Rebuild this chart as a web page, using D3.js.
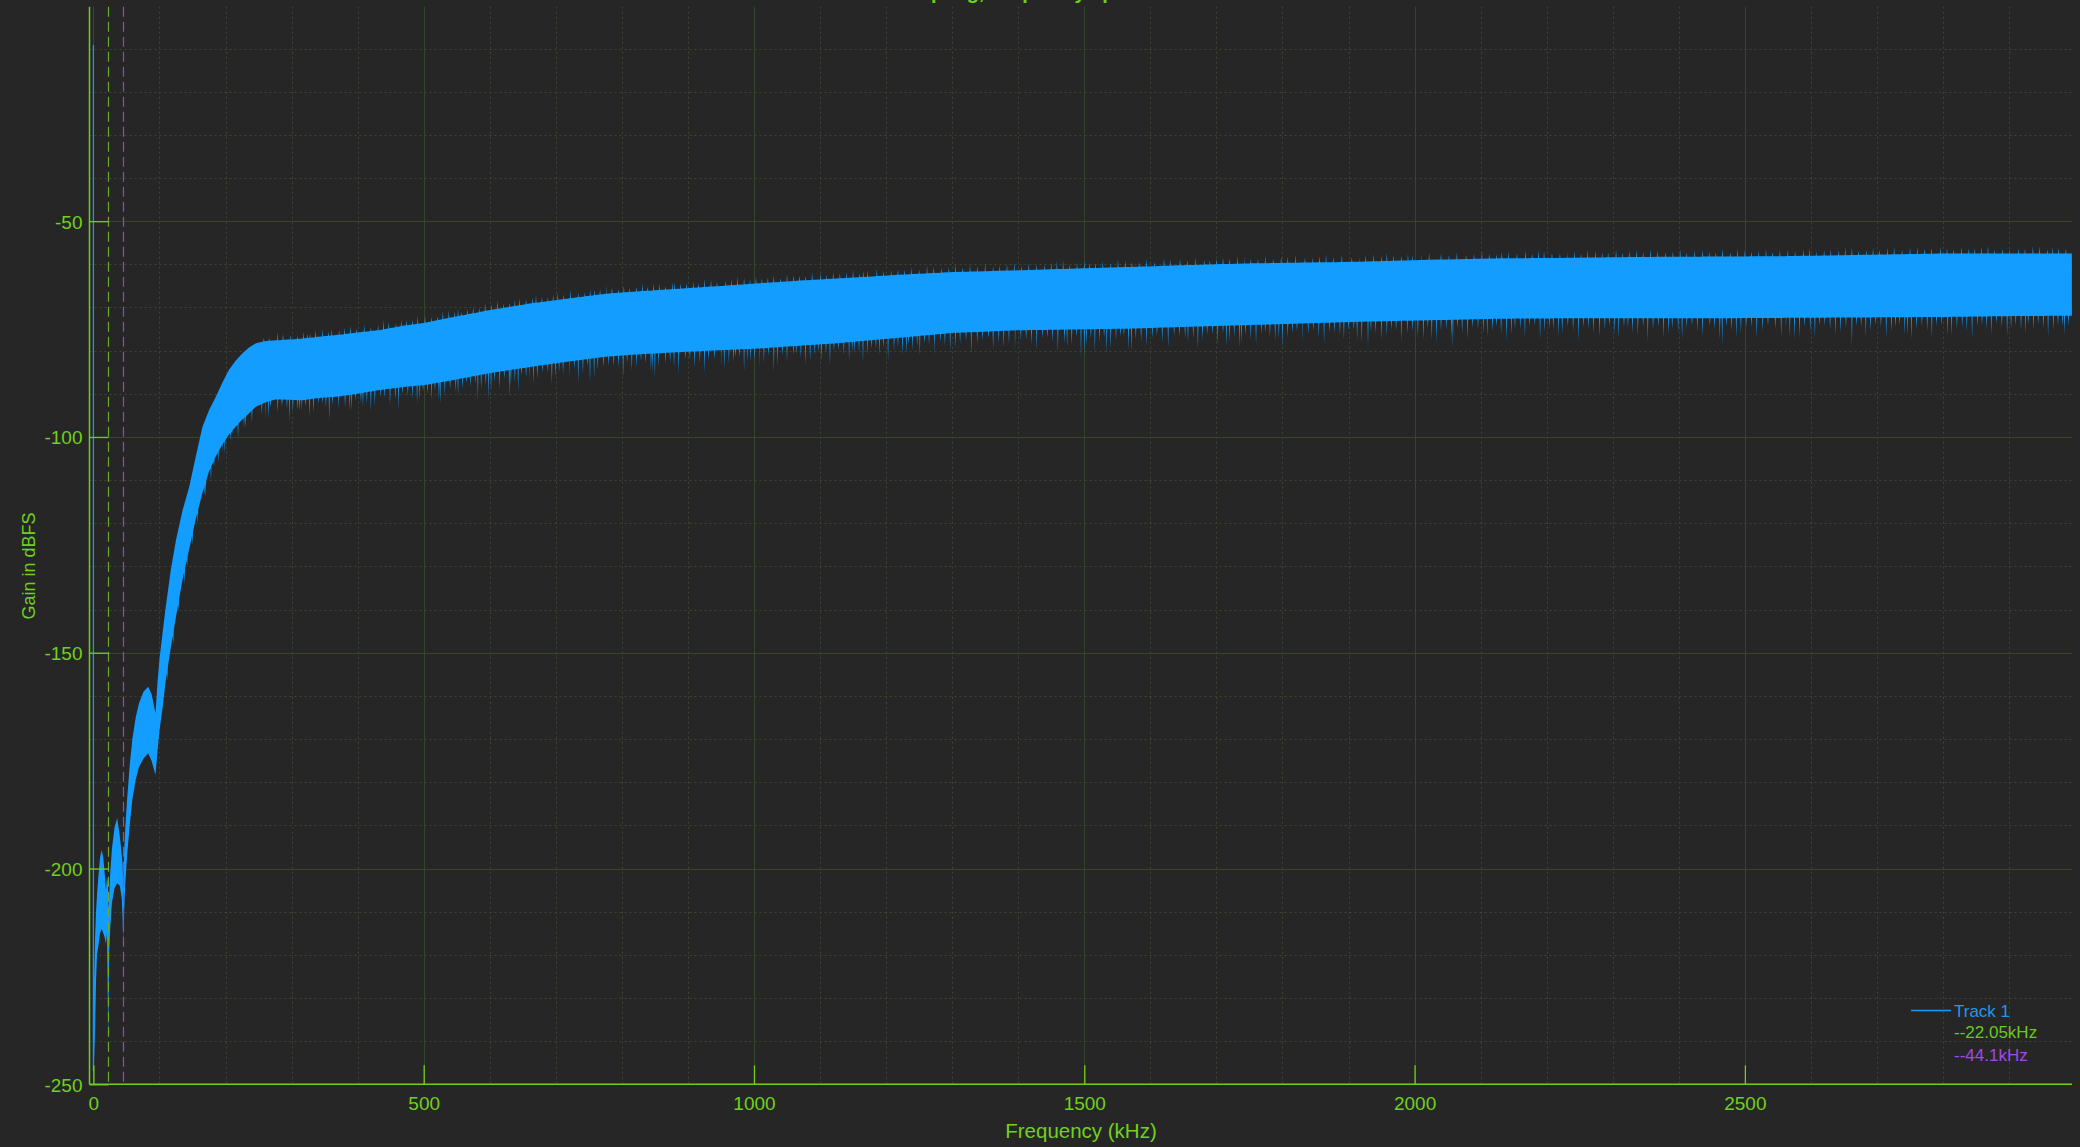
<!DOCTYPE html>
<html><head><meta charset="utf-8">
<script src="https://cdn.jsdelivr.net/npm/d3@7"></script>
<style>html,body{margin:0;padding:0;background:#262626;} svg{display:block;}</style>
</head><body><svg id="c" width="2080" height="1147"></svg>
<script>
// ---------------- DATA ----------------
const chartTitle = "Sampling, frequency spectrum";
const xLabel = "Frequency (kHz)";
const yLabel = "Gain in dBFS";
const xTicks = [0, 500, 1000, 1500, 2000, 2500];
const yTicks = [-250, -200, -150, -100, -50];
const markerFreqs = [22.05, 44.1];
const legendLabels = ["Track 1", "--22.05kHz", "--44.1kHz"];
const dcFreq = 0;
const dcRange = [-9.2, -247];

// envelope of the spectrum band (kHz, upper dB, lower dB)
const envFreq = [1,2.5,4,5.5,7.5,10,12.5,15,17,19,20.5,21.8,22.3,23,24,25.5,28,32,36,40,43,44.3,45,46.5,48.5,51,55,59,64,69,76,83,88,94,97,100,105,109,117,125,135,145,155,165,175,185,195,205,215,225,235,246,260,276,300,316,340,367,400,430,470,500,545,600,660,720,776,830,892,950,1008,1065,1124,1221,1300,1395,1480,1569,1650,1742,1830,1916,2010,2129,2231,2331,2450,2562,2680,2794,2900,2995];
const envUpper = [-226,-216,-210,-206,-202,-197.5,-195.7,-197.5,-201,-205,-202,-203,-205,-210,-206,-201,-195.5,-190.5,-188.3,-192.5,-197,-199,-203,-196,-190,-184,-176,-170,-165,-161.7,-159,-157.9,-159.5,-164,-157,-151.5,-145,-140,-131,-123.9,-117,-111.6,-104.5,-97.7,-93.8,-90.8,-87.5,-84.5,-82.4,-80.7,-79.3,-78.3,-77.8,-77.6,-77.4,-77.2,-76.8,-76.4,-75.8,-75.3,-74.2,-73.6,-72.2,-70.6,-69.1,-67.9,-66.8,-66.2,-65.6,-65,-64.4,-63.8,-63.3,-62.4,-61.8,-61.4,-61,-60.6,-60.2,-59.8,-59.6,-59.4,-59,-58.6,-58.5,-58.3,-58.2,-58.1,-57.8,-57.5,-57.5,-57.5];
const envLower = [-246,-238,-226,-220,-218,-215,-214,-215,-216,-217.5,-215,-230,-240,-232,-219,-214,-208,-204.5,-203.4,-204,-207,-212,-216.6,-210,-203,-197,-190,-184,-179.5,-176.5,-174.5,-173.3,-175,-178.3,-173,-168,-162.5,-157,-149,-141.7,-133,-126,-119,-113,-108,-104.6,-101.8,-99.5,-97.7,-96,-94.6,-93,-92,-91.3,-91.4,-91.5,-91,-90.7,-90,-89.2,-88.4,-88,-86.8,-85.2,-83.8,-82.5,-81.4,-80.8,-80.3,-79.9,-79.5,-78.9,-78.3,-77,-75.9,-75.3,-75.1,-74.9,-74.5,-74.1,-73.7,-73.3,-73,-72.6,-72.5,-72.5,-72.5,-72.4,-72.3,-72.2,-72,-71.9];

// deep downward spikes (kHz, dB at tip)
const lowerSpikes = [[142,-130.1],[170,-113.9],[182.6,-106.9],[195,-103.8],[210,-99.2],[230.5,-98],[264.8,-95.7],[285,-93],[308.7,-93.8],[315.6,-93.9],[346.6,-92.2],[370.8,-93.4],[391,-93.8],[408,-93],[494,-91.3],[523,-91.5],[548.5,-89.5],[570.5,-88.4],[598.3,-91.5],[615,-89],[629.6,-90.9],[660,-86.7],[699.7,-86.1],[751.8,-87.6],[763.4,-84.4],[787.7,-83.7],[844,-84.7],[855.5,-83.6],[950,-83.6],[969,-82.6],[990.5,-82.4],[1035.7,-83.4],[1060,-81],[1098,-80.3],[1148.6,-80.3],[1184.6,-79.5],[1231,-80.7],[1247,-79.1],[1273,-79.1],[1370.5,-78.3],[1470,-78.3],[1495,-81.6],[1500,-81],[1534,-80.7],[1571.5,-80.3],[1652.6,-77.2],[1715,-79.1],[1738,-78.3],[1794.5,-77.2],[1913,-77.6],[1929.5,-79.1],[2013.5,-77.6],[2026,-77.6],[2058,-79.3],[2104.5,-76],[2146.5,-76.4],[2223.5,-76],[2303,-76.2],[2384.6,-76.2],[2465.7,-78.7],[2568,-76.9],[2582.7,-76.9],[2662,-79],[2746,-76.2],[2807,-76.4],[2903,-74.9],[2937,-75.1],[2981,-74.3]];
// tall upward spikes (kHz, dB at tip)
const upperSpikes = [[323.9,-76],[360.8,-74.9],[552,-70.2],[665,-67.7],[758.8,-65.8],[876.4,-64.2],[908,-64.1],[1165.4,-61.5],[1207.7,-61.4],[1458.5,-59.3],[1620.7,-58.6],[1681.5,-59],[1997,-58],[2113,-57.5],[2187.6,-56.7],[2231,-57.1],[2588.5,-56.5],[2761,-55.9],[2782.6,-56.1],[2839,-56.3],[2878,-56.6]];
// small fuzz below the lower edge (kHz, dB below edge)
const lowerFuzz = [[112,2.5],[121,3],[129,2.2],[138,3.4],[150,2.6],[158,3.1],[168,2],[178,3.3],[189,2.4],[199,2.9],[208,1.8],[219,3.2],[228,2.1],[240,2.8],[255,2.4],[260,4.2],[268,1.6],[279,3.1],[286,1.2],[293,2],[297,5.1],[302,2.7],[312,2.4],[321,1.5],[327,4],[333,3.3],[341,1.3],[352,2.2],[357,5.5],[362,1.8],[371,1.9],[381,2.9],[388,3.7],[397,1.4],[405,2.1],[414,2.6],[420,4.6],[426,3.5],[435,1.5],[441,1.9],[449,3.9],[457,2.8],[462,5.2],[468,1.6],[476,2.2],[483,3],[490,4.4],[499,1.4],[506,2.3],[512,3.8],[517,1.7],[525,5],[532,3.2],[540,2],[552,4.1],[559,2.5],[565,1.3],[578,1.8],[582,5.7],[587,3.4],[594,2.6],[602,4.3],[607,2.1],[622,1.8],[632,3.6],[638,2.9],[643,5.3],[648,1.6],[655,2.3],[666,4],[672,3.1],[680,1.7],[688,2],[694,4.8],[705,2.1],[711,2.7],[720,3.9],[728,1.9],[734,5.4],[741,3.3],[748,1.6],[758,4.5],[772,2.4],[780,2.2],[795,2.8],[802,5],[808,1.7],[815,3.7],[822,3],[829,1.5],[836,2.2],[846,4.2],[850,5.8],[866,2.6],[873,2.4],[879,3.4],[886,4.9],[896,1.6],[903,1.9],[910,3.8],[918,2.9],[925,5.1],[931,2.3],[940,2.2],[955,4.4],[962,3.1],[972,1.7],[978,1.8],[985,5.2],[995,2.9],[1001,2.7],[1008,4.1],[1015,3.3],[1022,1.8],[1030,5.6],[1043,2],[1050,3.3],[1064,1.9],[1071,2.8],[1078,4.7],[1085,3.6],[1092,2.3],[1102,3.9],[1109,2.2],[1115,5],[1121,1.7],[1128,1.6],[1136,3],[1144,4.3],[1152,2.5],[1159,2.6],[1165,4.8],[1172,3.4],[1178,1.9],[1190,3.6],[1196,2.1],[1203,5.3],[1212,2.9],[1218,2.1],[1225,4.2],[1234,1.7],[1240,3.2],[1251,4.6],[1258,1.9],[1265,2.3],[1273,5.1],[1282,1.8],[1289,2.7],[1297,4],[1305,3.5],[1312,2.6],[1321,2],[1329,5.2],[1338,2.8],[1346,2],[1355,1.6],[1362,4.4],[1378,3.8],[1386,3.1],[1395,5],[1404,2.4],[1412,2.2],[1420,3.3],[1428,4.6],[1437,1.8],[1444,1.9],[1452,2.9],[1460,5.3],[1474,4.1],[1481,3.6],[1488,1.7],[1503,3.9],[1510,2.2],[1516,5.2],[1523,3],[1530,2],[1540,4.5],[1548,2.6],[1555,1.8],[1560,1.7],[1567,5],[1578,2.5],[1586,3.2],[1594,4.2],[1603,2.4],[1610,1.9],[1618,3.5],[1627,4.8],[1636,2],[1644,2.2],[1657,3.7],[1665,2.8],[1672,5.4],[1679,3.3],[1686,2],[1694,1.9],[1702,4.3],[1710,1.7],[1720,3.9],[1727,2.7],[1735,5.1],[1744,2.3],[1752,3.4],[1760,4.6],[1768,2.1],[1774,1.8],[1781,2.9],[1789,3.8],[1800,5.3],[1808,3.1],[1815,2.2],[1822,1.8],[1830,4.4],[1839,2.6],[1847,1.6],[1855,3.5],[1863,4.9],[1871,2.3],[1879,2.5],[1887,3],[1893,4.1],[1900,1.9],[1908,1.8],[1920,5],[1934,2.4],[1941,2.8],[1950,4.3],[1958,3.4],[1965,1.9],[1972,2.2],[1980,4.8],[1989,3],[1997,2.6],[2005,4],[2020,1.7],[2033,5.2],[2040,2.5],[2048,2.3],[2056,4.4],[2065,1.9],[2072,3.3],[2080,4.7],[2088,2],[2096,2.2],[2110,4],[2118,2.9],[2124,1.8],[2131,3.6],[2139,5.1],[2152,2.4],[2160,2.4],[2167,4.3],[2174,1.8],[2182,1.7],[2190,4.9],[2197,3.2],[2204,2.3],[2210,2.6],[2218,4.1],[2232,1.9],[2240,3],[2248,5.2],[2256,2.1],[2263,2.5],[2271,3.4],[2280,4.4],[2288,2.7],[2295,1.8],[2309,4.8],[2317,2.2],[2323,2.2],[2330,3.5],[2338,4],[2346,1.9],[2353,5.3],[2361,2.8],[2369,1.9],[2377,4.5],[2390,2.4],[2399,3.3],[2405,4.9],[2412,2.3],[2420,1.7],[2428,3],[2436,4.2],[2447,1.8],[2454,2.6],[2462,5],[2472,1.9],[2480,2.9],[2487,4.4],[2494,3.4],[2502,2.2],[2510,2.1],[2518,4.7],[2527,3],[2535,1.8],[2546,2.6],[2555,4.3],[2562,2.5],[2575,5.1],[2590,2],[2599,3.3],[2606,4.6],[2613,1.9],[2621,1.8],[2629,2.8],[2637,4.1],[2645,3.6],[2653,2.4],[2669,2],[2676,2.2],[2683,4.5],[2690,3.1],[2698,1.7],[2706,2.5],[2714,4.8],[2722,3.4],[2728,2.3],[2734,1.8],[2742,4],[2752,5.2],[2760,2.9],[2768,2.1],[2776,3.3],[2783,4.6],[2790,2],[2798,1.8],[2813,4.3],[2821,2.7],[2829,2.5],[2836,3.5],[2844,5],[2852,2.2],[2859,2],[2866,3],[2873,4.2],[2881,1.7],[2889,2.6],[2897,4.7],[2910,2.3],[2918,3.2],[2925,4.1],[2929,1.9],[2944,1.9],[2952,2.9],[2959,4.8],[2967,3.4],[2974,2.4],[2984,4.4],[2990,2.4]];
// small fuzz above the upper edge (kHz, dB above edge)
const upperFuzz = [[258,0.9],[266,0.7],[279,1.9],[287,1.4],[298,1.1],[309,0.8],[318,1.5],[328,0.8],[336,1.6],[347,1.7],[356,1],[372,1.1],[380,1.4],[389,1.8],[398,0.9],[410,1.6],[420,0.9],[431,1.2],[439,2.2],[447,1.5],[458,0.8],[466,1.5],[474,1.2],[483,1.1],[491,2],[502,1.6],[512,1],[521,0.9],[529,1.8],[538,1.7],[547,1.2],[557,0.8],[566,1.3],[575,1.6],[584,1],[593,1.9],[603,1.4],[612,2],[621,1],[630,0.9],[638,1.5],[645,1.6],[655,1.1],[670,1.8],[679,1.2],[688,0.9],[696,1.4],[703,1.8],[712,1.1],[722,1.9],[734,1.1],[744,1],[752,1.5],[767,1.2],[776,2.1],[785,1.5],[795,0.9],[803,1.6],[812,1],[822,1.1],[831,1.8],[839,1],[848,1.7],[857,1.5],[866,0.8],[880,1.6],[889,1.3],[898,1.2],[916,0.9],[925,1.9],[935,1.6],[944,1.1],[957,1.1],[966,1.4],[975,1.9],[985,1.6],[994,1],[1003,1.6],[1012,1.2],[1021,1.2],[1030,1.7],[1040,0.9],[1050,1.8],[1060,1.4],[1069,1.1],[1078,1],[1088,1.8],[1101,1.5],[1110,1],[1120,1.6],[1130,1.2],[1140,1.3],[1150,1.8],[1160,0.9],[1172,1.5],[1186,1.7],[1196,1.1],[1218,1.3],[1228,1.1],[1238,1.6],[1250,1],[1262,1.9],[1272,1.5],[1284,1.1],[1295,1.2],[1305,1.8],[1316,1],[1327,1.6],[1338,1.4],[1350,1.9],[1362,1],[1372,1.2],[1383,1.5],[1394,1.8],[1405,1],[1416,1.7],[1428,1.3],[1440,1.1],[1450,1.6],[1468,2],[1478,1],[1489,1.5],[1500,1.7],[1508,1.2],[1517,1.1],[1528,1.5],[1540,1],[1551,1.9],[1562,1.6],[1572,1.2],[1583,1.2],[1594,1.8],[1606,1],[1630,1.5],[1645,1.6],[1656,1.2],[1668,1.9],[1690,1],[1700,1.3],[1710,1.6],[1720,1.2],[1732,1.8],[1742,1.5],[1752,1.1],[1763,1],[1774,1.8],[1786,1],[1798,1.6],[1808,1.4],[1820,1.9],[1834,1.2],[1846,1.1],[1856,1.5],[1866,1.9],[1877,1.2],[1890,1.7],[1905,1.1],[1916,1],[1926,1.6],[1938,1.7],[1950,1.2],[1958,1.9],[1968,1.3],[1980,1.1],[1990,1.5],[2010,1.3],[2022,1.8],[2040,1.5],[2052,1],[2064,1.6],[2078,1],[2090,1.2],[2102,1.7],[2124,1],[2132,1.5],[2142,1.6],[2155,1.2],[2168,1.8],[2178,1],[2196,1.6],[2208,1.2],[2220,1.1],[2242,1.5],[2252,1],[2262,1.8],[2274,1.7],[2284,1.2],[2293,1.1],[2305,1.8],[2315,1],[2325,1.5],[2336,1.6],[2346,1.2],[2357,1.9],[2368,1.5],[2380,1.1],[2391,1.2],[2402,1.7],[2412,1],[2424,1.6],[2436,1.6],[2446,1.2],[2456,1],[2466,1.9],[2478,1],[2489,1.8],[2500,1.5],[2510,1.2],[2521,1.3],[2532,1.7],[2542,1],[2553,1.5],[2565,1.6],[2576,1.2],[2598,1.8],[2608,1],[2620,1.2],[2630,1.5],[2642,1.2],[2652,1.9],[2662,1.7],[2672,1],[2684,1.1],[2694,1.6],[2704,1.2],[2716,1.6],[2726,1.8],[2738,1],[2750,1.5],[2772,1.2],[2796,1.6],[2806,1.3],[2816,1],[2828,1.5],[2848,1.2],[2858,1.7],[2868,1.8],[2890,1],[2900,1.5],[2914,1.2],[2924,1.2],[2936,1.7],[2946,1.8],[2958,1],[2966,1.5],[2975,1.3],[2986,1.2]];

// ---------------- STYLE ----------------
const BG = "#262626", GREEN = "#6fd11c", BLUE = "#139dff";
const MARK_GREEN = "#6aa92f", MARK_PURPLE = "#9c3fd8";
const FONT = "'Liberation Sans', Arial, sans-serif";

const svg = d3.select("#c");
svg.append("rect").attr("width", 2080).attr("height", 1147).attr("fill", BG);

const x = d3.scaleLinear().domain([-5.9, 2995.2]).range([89.5, 2072]);
const y = d3.scaleLinear().domain([-250, -0.3]).range([1084.3, 6.7]);
const [x0, x1] = x.range(), [yB, yT] = y.range();

// grid
const g = svg.append("g");
const minorX = d3.range(100, 3000, 100).filter(v => v % 500 !== 0);
const minorY = d3.range(-240, 0, 10).filter(v => v % 50 !== 0);
g.selectAll(".mx").data(minorX).enter().append("line")
  .attr("x1", d => Math.round(x(d)) + 0.5).attr("x2", d => Math.round(x(d)) + 0.5)
  .attr("y1", yT).attr("y2", yB).attr("stroke", "#3c4633").attr("stroke-dasharray", "2,3");
g.selectAll(".my").data(minorY).enter().append("line")
  .attr("y1", d => Math.round(y(d)) + 0.5).attr("y2", d => Math.round(y(d)) + 0.5)
  .attr("x1", x0).attr("x2", x1).attr("stroke", "#3c4633").attr("stroke-dasharray", "2,3");
g.selectAll(".Mx").data(xTicks).enter().append("line")
  .attr("x1", d => Math.round(x(d)) + 0.5).attr("x2", d => Math.round(x(d)) + 0.5)
  .attr("y1", yT).attr("y2", yB).attr("stroke", d => d === 0 ? "#404040" : "#34452a");
g.selectAll(".My").data(yTicks.filter(v => v > -250)).enter().append("line")
  .attr("y1", d => Math.round(y(d)) + 0.5).attr("y2", d => Math.round(y(d)) + 0.5)
  .attr("x1", x0).attr("x2", x1).attr("stroke", "#34452a");

// spectrum band: envelope with spikes folded into its edges
function edgeAt(arr, f) {
  const i = Math.max(1, Math.min(envFreq.length - 1, d3.bisectLeft(envFreq, f)));
  const t = (f - envFreq[i - 1]) / (envFreq[i] - envFreq[i - 1]);
  return arr[i - 1] + (arr[i] - arr[i - 1]) * t;
}
function buildEdge(arr, tips) {
  const w = 0.75;
  const pts = envFreq.map((f, i) => [f, arr[i]]);
  tips.forEach(([f, v]) => {
    pts.push([f - w, edgeAt(arr, f - w)], [f, v], [f + w, edgeAt(arr, f + w)]);
  });
  return pts.sort((a, b) => a[0] - b[0]);
}
const upTips = upperFuzz.map(([f, d]) => [f, edgeAt(envUpper, f) + d]).concat(upperSpikes);
const loTips = lowerFuzz.map(([f, d]) => [f, edgeAt(envLower, f) - d]).concat(lowerSpikes);
const topEdge = buildEdge(envUpper, upTips);
const botEdge = buildEdge(envLower, loTips).reverse();
const line = d3.line().x(d => x(d[0])).y(d => y(d[1]));
svg.append("path").attr("d", line(topEdge.concat(botEdge)) + "Z").attr("fill", BLUE);

// DC bin
svg.append("line").attr("x1", x(dcFreq)).attr("x2", x(dcFreq))
  .attr("y1", y(dcRange[0])).attr("y2", y(dcRange[1]))
  .attr("stroke", "#2a90d8").attr("stroke-width", 1.3);

// marker lines
const mk = [MARK_GREEN, MARK_PURPLE];
markerFreqs.forEach((f, i) => {
  svg.append("line").attr("x1", Math.round(x(f)) + 0.5).attr("x2", Math.round(x(f)) + 0.5)
    .attr("y1", yT).attr("y2", yB).attr("stroke", mk[i]).attr("stroke-width", 1.2)
    .attr("stroke-dasharray", "10,5");
});

// axes
const fmt = d => String(d);
const ax = svg.append("g").attr("transform", `translate(0,${yB})`)
  .call(d3.axisBottom(x).tickValues(xTicks).tickSize(-19).tickSizeOuter(0).tickFormat(fmt));
const ay = svg.append("g").attr("transform", `translate(${x0},0)`)
  .call(d3.axisLeft(y).tickValues(yTicks).tickSize(-19).tickSizeOuter(0).tickFormat(fmt));
[ax, ay].forEach(a => {
  a.select(".domain").attr("stroke", GREEN).attr("stroke-width", 1.5);
  a.selectAll(".tick line").attr("stroke", GREEN).attr("stroke-width", 1.3);
  a.selectAll(".tick text").attr("fill", GREEN).attr("font-family", FONT).attr("font-size", 19);
});
ay.select(".domain").attr("d", `M0,${yB}V${yT}`);
ax.select(".domain").attr("d", `M${x0},0H${x1}`);
ay.selectAll(".tick text").attr("x", -7).attr("dy", "0.36em");
ax.selectAll(".tick text").attr("y", 12).attr("dy", "0.71em");

// labels
svg.append("text").attr("x", 1081).attr("y", 1138).attr("text-anchor", "middle")
  .attr("fill", GREEN).attr("font-family", FONT).attr("font-size", 20.5).text(xLabel);
svg.append("text").attr("transform", "translate(35,566) rotate(-90)").attr("text-anchor", "middle")
  .attr("fill", GREEN).attr("font-family", FONT).attr("font-size", 18).text(yLabel);
svg.append("text").attr("x", 1035).attr("y", -1.5).attr("text-anchor", "middle")
  .attr("fill", GREEN).attr("font-family", FONT).attr("font-weight", "bold").attr("font-size", 20).text(chartTitle);

// legend
const lg = svg.append("g");
lg.append("line").attr("x1", 1911).attr("x2", 1951).attr("y1", 1010.5).attr("y2", 1010.5)
  .attr("stroke", BLUE).attr("stroke-width", 1.5);
const lcol = ["#1f98f0", "#6cc81e", "#a548e6"];
const lyy = [1016.7, 1038.3, 1060.7];
legendLabels.forEach((t, i) => {
  lg.append("text").attr("x", 1954).attr("y", lyy[i]).attr("fill", lcol[i])
    .attr("font-family", FONT).attr("font-size", 17).text(t);
});
</script></body></html>
